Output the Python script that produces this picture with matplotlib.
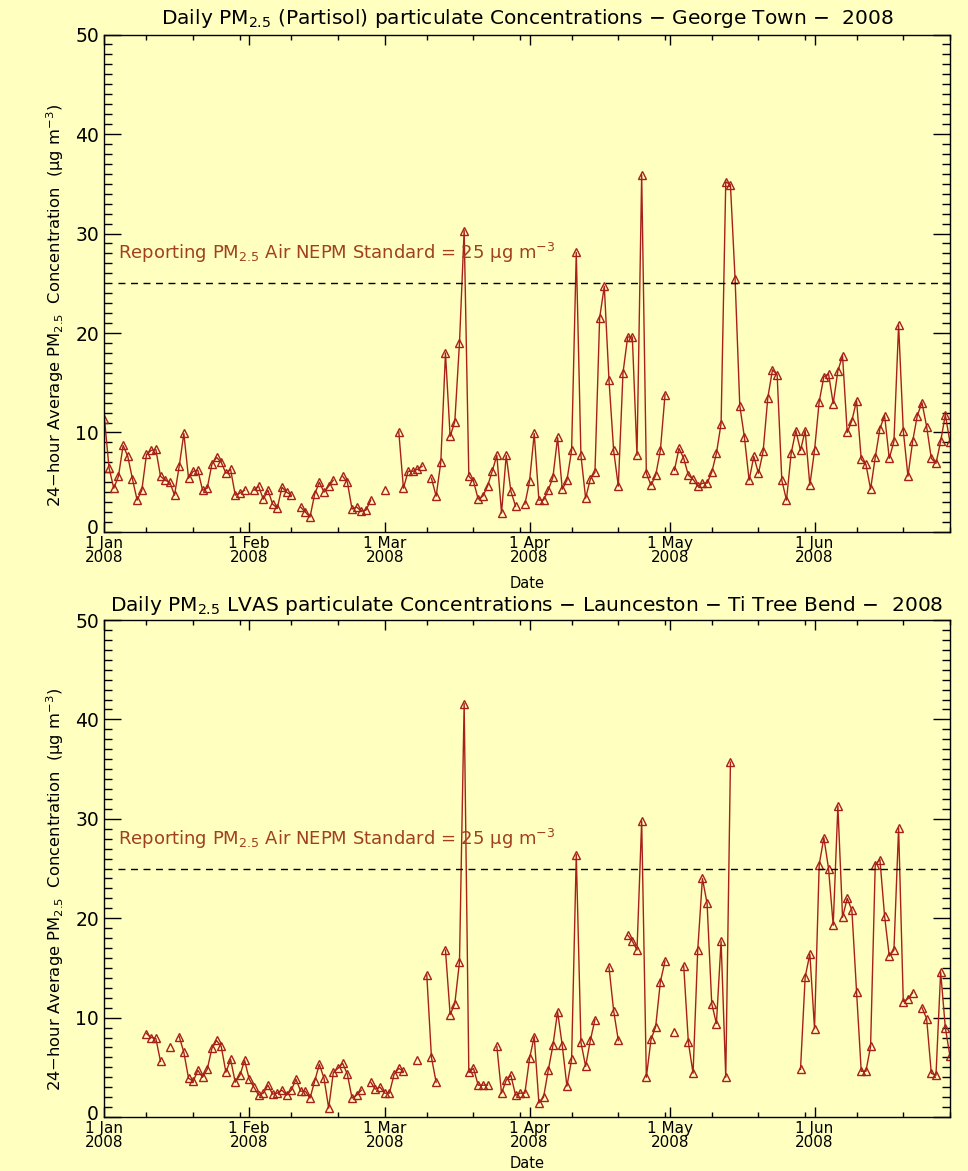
import numpy as np
import matplotlib
matplotlib.use('Agg')
import matplotlib.pyplot as plt
import matplotlib.dates as mdates
import matplotlib.transforms as mtransforms

plt.rcParams['font.family'] = ['DejaVu Sans']
plt.rcParams['mathtext.default'] = 'regular'

nan = np.nan

# daily values, 1 Jan 2008 .. 30 Jun 2008 (182 days), nan = no sample
days = np.arange('2008-01-01', '2008-07-01', dtype='datetime64[D]')

george_town = [
    11.4, 6.4, 4.4, 5.6, 8.7, 7.6, 5.3, 3.2, 4.2, 7.8,
    8.2, 8.3, 5.6, 5.2, 5.0, 3.7, 6.6, 9.9, 5.4, 6.1,
    6.2, 4.2, 4.4, 6.8, 7.5, 7.0, 5.9, 6.3, 3.7, 3.9,
    4.2, nan, 4.2, 4.6, 3.3, 4.2, 2.8, 2.4, 4.5, 4.0,
    3.7, nan, 2.5, 2.0, 1.5, 3.8, 5.0, 4.0, 4.6, 5.2,
    nan, 5.6, 5.0, 2.3, 2.5, 2.1, 2.2, 3.2, nan, nan,
    4.2, nan, nan, 10.1, 4.4, 6.1, 6.1, 6.3, 6.6, nan,
    5.4, 3.6, 7.0, 18.0, 9.6, 11.1, 19.0, 30.3, 5.6, 5.1,
    3.3, 3.6, 4.6, 6.1, 7.7, 1.9, 7.7, 4.1, 2.6, nan,
    2.8, 5.1, 9.9, 3.2, 3.2, 4.2, 5.5, 9.5, 4.3, 5.2,
    8.2, 28.1, 7.7, 3.4, 5.3, 6.0, 21.5, 24.7, 15.3, 8.2,
    4.6, 16.0, 19.6, 19.6, 7.7, 35.9, 5.9, 4.7, 5.7, 8.2,
    13.8, nan, 6.2, 8.4, 7.4, 5.7, 5.3, 4.6, 4.9, 4.9,
    6.0, 7.9, 10.9, 35.2, 34.9, 25.4, 12.7, 9.5, 5.2, 7.6,
    5.9, 8.1, 13.5, 16.3, 15.8, 5.2, 3.2, 7.9, 10.2, 8.2,
    10.2, 4.7, 8.2, 13.1, 15.6, 15.9, 12.9, 16.2, 17.7, 10.0,
    11.2, 13.2, 7.3, 6.8, 4.3, 7.5, 10.4, 11.7, 7.4, 9.1,
    20.8, 10.2, 5.6, 9.1, 11.7, 13.0, 10.6, 7.4, 6.9, 9.1,
    11.8, 9.0,
]

ti_tree_bend = [
    nan, nan, nan, nan, nan, nan, nan, nan, nan, 8.4,
    8.0, 7.9, 5.6, nan, 7.0, nan, 8.1, 6.5, 3.9, 3.6,
    4.7, 4.0, 4.8, 6.9, 7.7, 7.1, 4.5, 5.8, 3.5, 4.2,
    5.7, 3.8, 3.0, 2.2, 2.4, 3.2, 2.3, 2.4, 2.7, 2.2,
    2.7, 3.8, 2.6, 2.6, 1.9, 3.6, 5.3, 3.9, 0.9, 4.5,
    4.9, 5.4, 4.3, 1.9, 2.2, 2.7, nan, 3.5, 2.8, 3.0,
    2.4, 2.4, 4.3, 4.9, 4.6, nan, nan, 5.7, nan, 14.3,
    6.0, 3.5, nan, 16.8, 10.3, 11.4, 15.6, 41.6, 4.5, 4.9,
    3.2, 3.2, 3.2, nan, 7.1, 2.4, 3.7, 4.2, 2.2, 2.4,
    2.4, 5.9, 8.1, 1.4, 2.0, 4.7, 7.2, 10.6, 7.2, 3.1,
    5.8, 26.4, 7.5, 5.1, 7.7, 9.8, nan, nan, 15.1, 10.7,
    7.7, nan, 18.3, 17.7, 16.8, 29.8, 4.0, 7.8, 9.1, 13.6,
    15.7, nan, 8.6, nan, 15.2, 7.5, 4.4, 16.8, 24.0, 21.5,
    11.4, 9.4, 17.7, 4.0, 35.7, nan, nan, nan, nan, nan,
    nan, nan, nan, nan, nan, nan, nan, nan, nan, 4.8,
    14.1, 16.4, 8.9, 25.4, 28.1, 25.0, 19.3, 31.3, 20.1, 22.0,
    20.8, 12.6, 4.6, 4.6, 7.1, 25.4, 25.9, 20.2, 16.2, 16.8,
    29.1, 11.6, 11.9, 12.5, nan, 11.0, 9.9, 4.4, 4.2, 14.6,
    9.0, 6.1,
]

titles = [
    r'Daily PM$_{2.5}$ (Partisol) particulate Concentrations $-$ George Town $-$  2008',
    r'Daily PM$_{2.5}$ LVAS particulate Concentrations $-$ Launceston $-$ Ti Tree Bend $-$  2008',
]
standard = 25

bg = '#FFFFC0'
red = '#A8201A'
brown = '#A04020'

fig = plt.figure(figsize=(9.68, 11.71), dpi=100, facecolor=bg)
ax1 = fig.add_axes([0.1079, 0.5457, 0.8735, 0.4248])
ax2 = fig.add_axes([0.1079, 0.0461, 0.8735, 0.4244])

ylab = r'24$-$hour Average PM$_{2.5}$  Concentration  ($\mu$g m$^{-3}$)'

for ax, vals in [(ax1, george_town), (ax2, ti_tree_bend)]:
    ax.set_facecolor(bg)
    ax.plot(days, vals, '-', color=red, lw=1, marker='^', ms=6,
            mfc='none', mec=red, mew=1)
    ax.plot([days[3], days[-1]], [standard, standard], color='black',
            lw=1, ls=(0, (5, 4)))
    ax.text(days[3], 28, r'Reporting PM$_{2.5}$ Air NEPM Standard = 25 $\mu$g m$^{-3}$',
            color=brown, fontsize=13, va='center', ha='left')
    ax.set_xlim(days[0], days[-1])
    ax.set_ylim(0, 50)
    ax.set_yticks(range(0, 51, 10))
    ax.set_yticks(range(0, 51, 1), minor=True)
    ax.xaxis.set_major_locator(mdates.MonthLocator())
    ax.xaxis.set_minor_locator(mdates.DayLocator(bymonthday=[10, 20, 30]))
    ax.xaxis.set_major_formatter(mdates.DateFormatter('%-d %b\n%Y'))
    ax.tick_params(axis='both', which='both', direction='in', top=True, right=True,
                   color='black', width=1)
    ax.tick_params(axis='y', which='major', length=12, labelsize=13.5, pad=4)
    ax.tick_params(axis='y', which='minor', length=6)
    ax.tick_params(axis='x', which='major', length=7, labelsize=11, pad=3)
    ax.tick_params(axis='x', which='minor', length=3.5)
    for s in ax.spines.values():
        s.set_linewidth(1)
    for lab in ax.get_xticklabels():
        lab.set_linespacing(0.9)
    # lift the "0" label a little, as in the original
    zero = ax.yaxis.get_major_ticks()[0].label1
    zero.set_transform(zero.get_transform() +
                       mtransforms.ScaledTranslation(0, 0.05, fig.dpi_scale_trans))

fig.text(0.5445, 0.9846, titles[0], ha='center', va='center', fontsize=14.5)
fig.text(0.5445, 0.4825, titles[1], ha='center', va='center', fontsize=14.5)
fig.text(0.5445, 0.502, 'Date', ha='center', va='center', fontsize=10.5)
fig.text(0.5445, 0.006, 'Date', ha='center', va='center', fontsize=10.5)
fig.text(0.057, 0.7395, ylab, rotation=90, ha='center', va='center', fontsize=11.8)
fig.text(0.057, 0.24, ylab, rotation=90, ha='center', va='center', fontsize=11.8)

fig.savefig('out.png', dpi=100, facecolor=bg)
